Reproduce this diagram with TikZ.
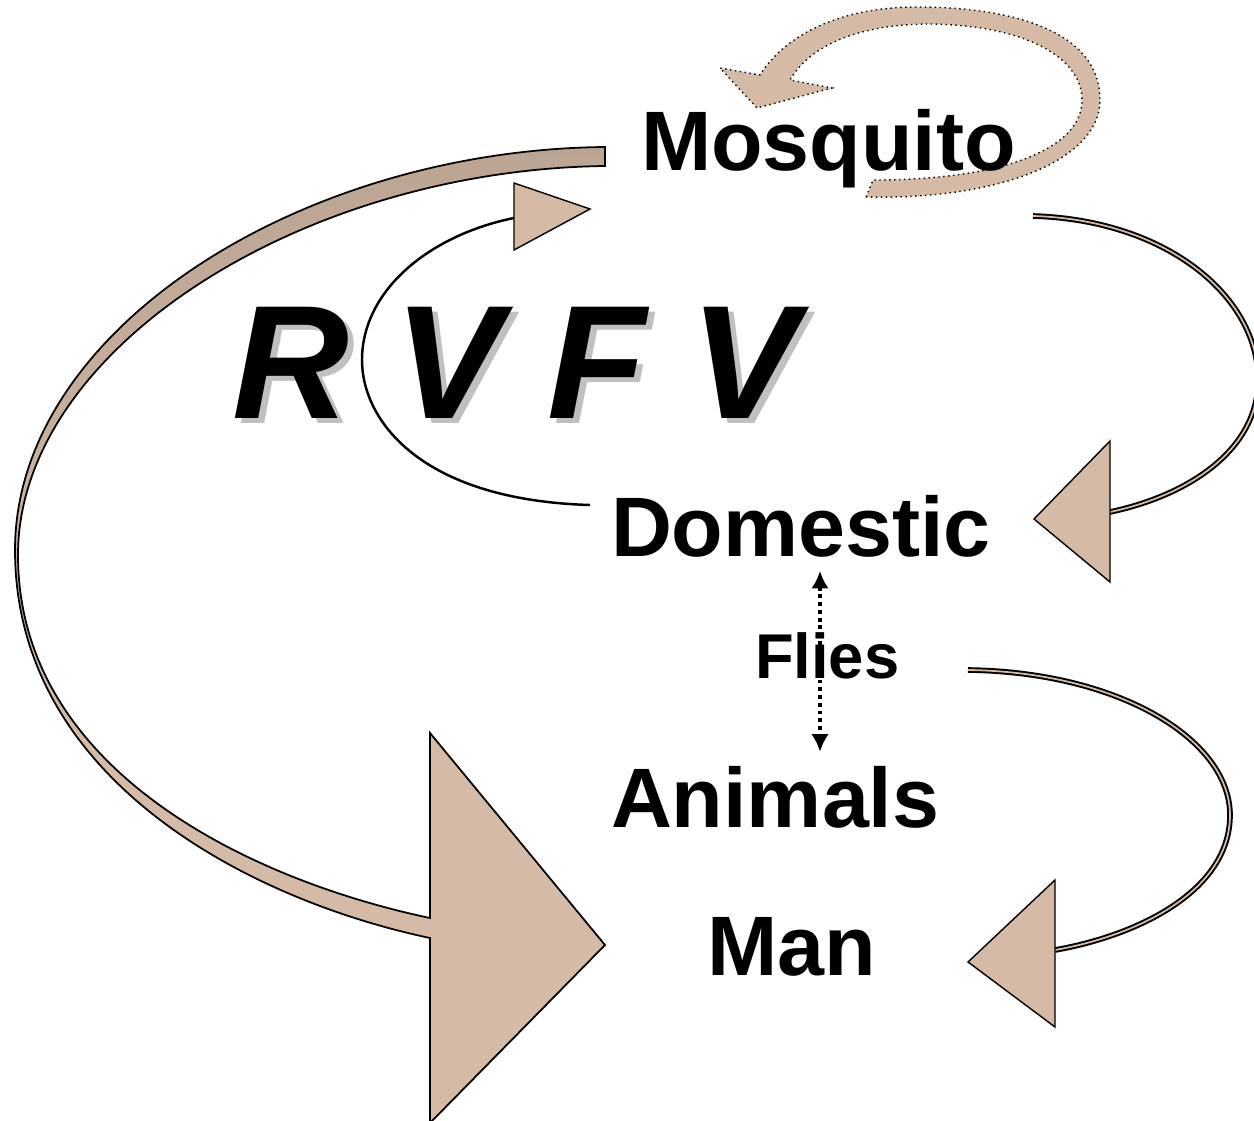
\documentclass[tikz,border=0pt]{standalone}
\usepackage{fontspec}
\setmainfont{Liberation Sans}
\usetikzlibrary{arrows.meta}
\definecolor{tanfill}{RGB}{213,186,166}
\definecolor{tandark}{RGB}{166,146,130}
\definecolor{shadowgray}{RGB}{192,192,192}
\pgfdeclareverticalshading{bandshade}{100bp}{color(0bp)=(tanfill); color(45bp)=(tanfill); color(100bp)=(tandark)}
\newcommand{\shadowtext}[1]{\rlap{\hspace{1.7pt}\raisebox{-1.7pt}{\textcolor{shadowgray}{#1}}}#1}

\begin{document}
\begin{tikzpicture}[x=0.01cm, y=-0.01cm,
    lbl/.style={font=\bfseries\fontsize{24}{28}\selectfont, anchor=base west, inner sep=0pt, outer xsep=0pt, outer ysep=4pt},
    bigtitle/.style={font=\bfseries\itshape\fontsize{46}{50}\selectfont, anchor=base west, inner sep=0pt},
    headshape/.style={fill=tanfill, draw=black, line width=0.4pt},
    thinband/.style={draw=black, line width=0.55pt, double=tanfill, double distance=0.5pt},
    flyline/.style={line width=1.2pt, dash pattern=on 1.1pt off 1.1pt, {Latex[length=5pt,width=5pt]}-{Latex[length=5pt,width=5pt]}}]
    \clip (0,0) rectangle (1254,1121);
    \fill[white] (0,0) rectangle (1254,1121);

    % Mosquito loop (top)
    \filldraw[fill=tanfill, draw=black, line width=0.4pt, densely dotted]
        (866,197) .. controls (1000,200) and (1100,160) .. (1100,100)
        .. controls (1100,30) and (1010,7) .. (917,7)
        .. controls (840,7) and (785,35) .. (760,75)
        -- (720,68) -- (757,108) -- (832,88) -- (790,80)
        .. controls (810,45) and (860,24) .. (930,24)
        .. controls (1020,25) and (1082,55) .. (1082,100)
        .. controls (1082,150) and (1000,180) .. (873,180) -- cycle;

    % Mosquito -> Man (big arrow)
    \shadedraw[shading=bandshade, draw=black, line width=0.5pt]
        (605,147) .. controls (300,150) and (15,330) .. (15,550)
        .. controls (15,780) and (250,900) .. (430,938)
        -- (430,1123) -- (605,945) -- (430,733) -- (430,918)
        .. controls (250,880) and (18,770) .. (18,555)
        .. controls (18,350) and (300,170) .. (605,166) -- cycle;

    % Domestic -> Mosquito
    \draw[line width=0.7pt] (590,505) .. controls (420,500) and (362,420) .. (362,360)
        .. controls (362,290) and (430,235) .. (514,218);
    \draw[headshape] (514,183) -- (590,209) -- (514,250) -- cycle;

    % Mosquito -> Domestic
    \draw[thinband] (1033,216) .. controls (1170,220) and (1262,300) .. (1258,385)
        .. controls (1255,450) and (1190,495) .. (1110,512);
    \draw[headshape] (1110,441) -- (1034,519) -- (1110,582) -- cycle;

    % Flies -> Man
    \draw[thinband] (968,670) .. controls (1120,672) and (1230,740) .. (1230,815)
        .. controls (1230,890) and (1140,935) .. (1055,950);
    \draw[headshape] (1055,880) -- (968,962) -- (1055,1027) -- cycle;

    % RVFV title with shadow
    \node[bigtitle] (rvfv) at (232,418) {\shadowtext{R V F V}};

    % Labels
    \node[lbl] (mos) at (641,170) {Mosquito};
    \node[lbl] (dom) at (611,556) {Domestic};
    \node[lbl, font=\bfseries\fontsize{18}{22}\selectfont] (fly) at (755,678) {Flies};
    \node[lbl] (ani) at (611,827) {Animals};
    \node[lbl] (man) at (707,975) {Man};

    % Flies link
    \coordinate (flyx) at (820,620);
    \draw[flyline] (dom.south -| flyx) -- (ani.north -| flyx);
\end{tikzpicture}
\end{document}
